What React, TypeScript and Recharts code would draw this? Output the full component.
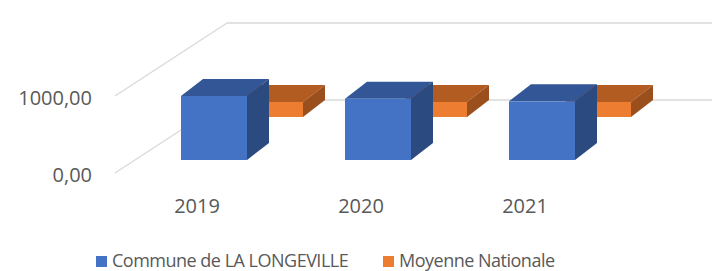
/**
 * 3D-style bar chart: commune vs national average, drawn with Recharts.
 */
import { BarChart, Bar, XAxis, YAxis, Legend, CartesianGrid } from 'recharts'

const years = ['2019', '2020', '2021']
const communeValues = [831, 796, 762]
const nationalValues = [195, 195, 195]
const yTicks = [0, 1000]

const SERIES = [
  { key: 'commune', label: 'Commune de LA LONGEVILLE', color: '#4472C4' },
  { key: 'national', label: 'Moyenne Nationale', color: '#ED7D31' },
]

// depth offsets (oblique projection)
const BOX_DX = 22
const BOX_DY = 17
const ORANGE_SHIFT_X = 56
const ORANGE_SHIFT_Y = 43
const FRONT_DX = -17
const FRONT_DY = 13
const BACK_DY = -73

const FONT = '"Open Sans", "Liberation Sans", sans-serif'
const TEXT_COLOR = '#595959'
const GRID_COLOR = '#D9D9D9'

const chartData = years.map((year, i) => ({
  year,
  commune: communeValues[i],
  national: nationalValues[i],
}))

function formatFr(value: number): string {
  return value.toFixed(2).replace('.', ',')
}

function Box3D(props: any) {
  const { x, y, width, height, front, top, side, shiftX = 0, shiftY = 0 } = props
  if (height == null || width == null) return null
  const x0 = x + shiftX
  const y0 = y - shiftY
  const w = width
  const h = height
  const dx = BOX_DX
  const dy = BOX_DY
  return (
    <g>
      <polygon
        points={`${x0},${y0} ${x0 + dx},${y0 - dy} ${x0 + w + dx},${y0 - dy} ${x0 + w},${y0}`}
        fill={top}
      />
      <polygon
        points={`${x0 + w},${y0} ${x0 + w + dx},${y0 - dy} ${x0 + w + dx},${y0 + h - dy} ${x0 + w},${y0 + h}`}
        fill={side}
      />
      <rect x={x0} y={y0} width={w} height={h} fill={front} />
    </g>
  )
}

// side wall + back wall gridline for one y tick
function GridLine3D(props: any) {
  const { y1 } = props
  // skip the plot's top edge (domain max), only tick lines are drawn
  if (y1 == null || y1 < 20) return null
  const frontX = 115
  const frontY = y1 + FRONT_DY
  const backX = 227
  const backY = y1 + BACK_DY + FRONT_DY
  return (
    <g>
      <line x1={frontX} y1={frontY} x2={backX} y2={backY} stroke={GRID_COLOR} strokeWidth={1.3} />
      <line x1={backX} y1={backY} x2={712} y2={backY} stroke={GRID_COLOR} strokeWidth={1.3} />
    </g>
  )
}

function YTick(props: any) {
  const { y, payload } = props
  return (
    <text
      x={92}
      y={y + FRONT_DY + 1}
      textAnchor="end"
      dominantBaseline="central"
      fill={TEXT_COLOR}
      fontSize={20}
      fontFamily={FONT}
    >
      {formatFr(payload.value)}
    </text>
  )
}

function XTick(props: any) {
  const { x, payload } = props
  return (
    <text
      x={x + FRONT_DX}
      y={205}
      textAnchor="middle"
      dominantBaseline="central"
      fill={TEXT_COLOR}
      fontSize={20}
      fontFamily={FONT}
    >
      {payload.value}
    </text>
  )
}

function LegendContent() {
  return (
    <div
      style={{
        height: 24,
        position: 'relative',
        fontFamily: FONT,
        fontSize: 18,
        letterSpacing: -0.5,
        color: TEXT_COLOR,
        lineHeight: '24px',
      }}
    >
      {SERIES.map((s, i) => (
        <div
          key={s.key}
          style={{ position: 'absolute', left: i === 0 ? 96 : 383, top: 0, whiteSpace: 'nowrap' }}
        >
          <span
            style={{
              display: 'inline-block',
              width: 11,
              height: 11,
              background: s.color,
              marginRight: 5,
              verticalAlign: 'middle',
              position: 'relative',
              top: -1,
            }}
          />
          {s.label}
        </div>
      ))}
    </div>
  )
}

export default function App() {
  return (
    <div style={{ position: 'absolute', left: 0, top: 0, width: 712, height: 271, background: '#fff' }}>
      <BarChart
        width={712}
        height={271}
        data={chartData}
        margin={{ top: 6, right: 88, left: 131, bottom: 57 }}
        barSize={66}
        barGap={-66}
      >
        <CartesianGrid vertical={false} horizontal={<GridLine3D />} />
        <XAxis
          dataKey="year"
          height={30}
          axisLine={false}
          tickLine={false}
          tick={<XTick />}
          interval={0}
        />
        <YAxis
          width={1}
          domain={[0, 2000]}
          ticks={yTicks}
          axisLine={false}
          tickLine={false}
          tick={<YTick />}
          interval={0}
        />
        <Legend
          verticalAlign="bottom"
          content={<LegendContent />}
          wrapperStyle={{ left: 0, bottom: -1, width: 712 }}
        />
        <Bar
          dataKey="national"
          name={SERIES[1].label}
          isAnimationActive={false}
          shape={(p: any) => (
            <Box3D
              {...p}
              front="#ED7D31"
              top="#B35C22"
              side="#9A4F1C"
              shiftX={ORANGE_SHIFT_X}
              shiftY={ORANGE_SHIFT_Y}
            />
          )}
        />
        <Bar
          dataKey="commune"
          name={SERIES[0].label}
          isAnimationActive={false}
          shape={(p: any) => <Box3D {...p} front="#4472C4" top="#335796" side="#2B4A80" />}
        />
      </BarChart>
    </div>
  )
}
